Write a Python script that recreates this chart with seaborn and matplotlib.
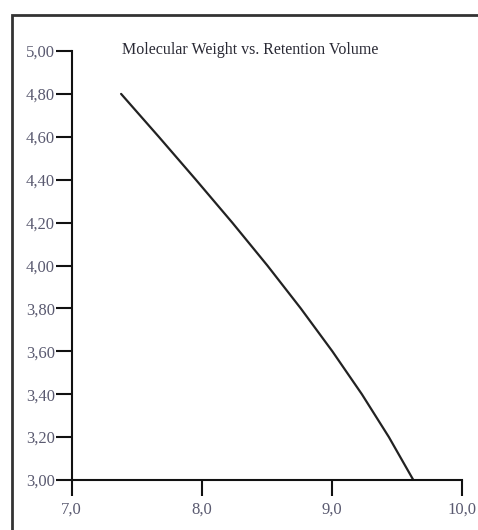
import matplotlib
matplotlib.use("Agg")
import matplotlib.pyplot as plt
from matplotlib.lines import Line2D
import seaborn as sns
import pandas as pd

# Calibration curve: log molecular weight against retention volume
retention_volume = [7.38, 7.67, 7.955, 8.235, 8.505, 8.762, 9.005, 9.232, 9.440, 9.628]
log_mw = [4.80, 4.60, 4.40, 4.20, 4.00, 3.80, 3.60, 3.40, 3.20, 3.00]

x_ticks = [7.0, 8.0, 9.0, 10.0]
x_tick_labels = ["7,0", "8,0", "9,0", "10,0"]
y_ticks = [3.00, 3.20, 3.40, 3.60, 3.80, 4.00, 4.20, 4.40, 4.60, 4.80, 5.00]
y_tick_labels = ["3,00", "3,20", "3,40", "3,60", "3,80", "4,00",
                 "4,20", "4,40", "4,60", "4,80", "5,00"]
title = "Molecular Weight vs. Retention Volume"

sns.set_style("white")
plt.rcParams["font.family"] = ["Liberation Serif", "DejaVu Serif"]

W, H = 478, 530
fig = plt.figure(figsize=(W / 100, H / 100), dpi=100)
fig.patch.set_facecolor("white")

# axes box in pixel terms: x from 71.7 to 461.7, y from 51 (top) to 480 (bottom)
ax = fig.add_axes([71.7 / W, 1 - 480 / H, 390 / W, 429 / H])
ax.set_facecolor("white")

df = pd.DataFrame({"volume": retention_volume, "logmw": log_mw})
sns.lineplot(data=df, x="volume", y="logmw", sort=False, estimator=None,
             color="#222222", linewidth=1.6, ax=ax)

ax.set_xlim(7.0, 10.0)
ax.set_ylim(3.0, 5.0)
ax.set_xticks(x_ticks)
ax.set_xticklabels(x_tick_labels)
ax.set_yticks(y_ticks)
ax.set_yticklabels(y_tick_labels)
ax.set_xlabel("")
ax.set_ylabel("")

for side in ("top", "right"):
    ax.spines[side].set_visible(False)
for side in ("left", "bottom"):
    ax.spines[side].set_color("#111111")
    ax.spines[side].set_linewidth(1.5)

ax.tick_params(axis="both", direction="out", length=11.5, width=1.5,
               color="#111111", labelsize=12, labelcolor="#5a5a70",
               bottom=True, left=True, top=False, right=False)
ax.tick_params(axis="y", pad=0.5)
ax.tick_params(axis="x", pad=4)

fig.text(250.5 / W, 1 - 50 / H, title, ha="center", va="center",
         fontsize=11.5, color="#2a2a35")

# outer frame (top and left edges)
fx = 12 / W
fy = 1 - 15 / H
fig.add_artist(Line2D([fx, fx, 1.0], [0.0, fy, fy], transform=fig.transFigure,
                      color="#333333", linewidth=2.0, solid_joinstyle="miter"))

fig.savefig("out.png", dpi=100, facecolor="white")
